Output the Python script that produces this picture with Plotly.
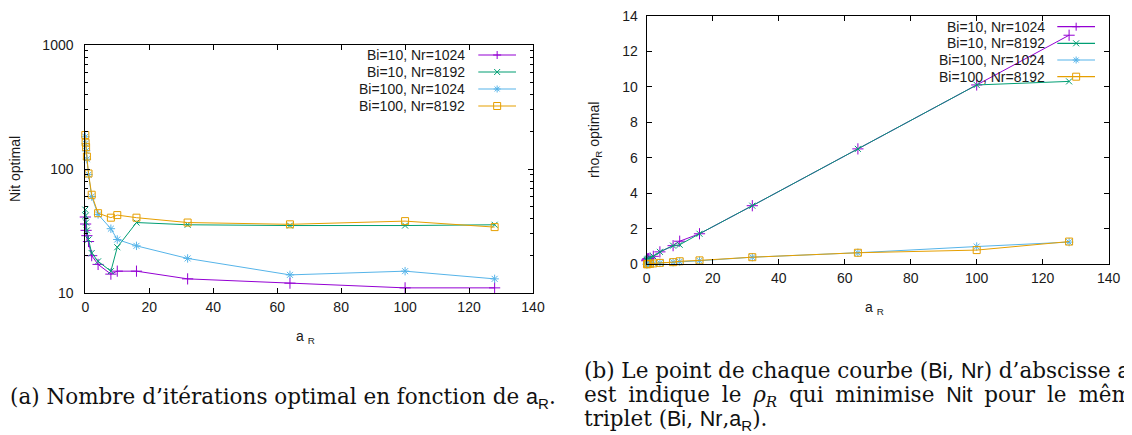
import plotly.graph_objects as go

W, H = 1132, 435
OFF = 8  # default page margin of the browser body

# ---------------- data ----------------
a_R = [0.01, 0.1, 0.25, 0.5, 1, 2, 4, 8, 10, 16, 32, 64, 100, 128]
series_names = ["Bi=10, Nr=1024", "Bi=10, Nr=8192", "Bi=100, Nr=1024", "Bi=100, Nr=8192"]

nit_bi10_nr1024 = [41, 36, 32, 29, 26, 20, 17, 14.2, 15, 15, 13, 12, 11, 11]
nit_bi10_nr8192 = [47, 42, 37, 32, 27, 21, 18, 15, 23.4, 37, 35.5, 35, 35, 35.5]
nit_bi100_nr1024 = [182, 160, 140, 120, 90, 60, 43, 33, 27, 24, 19, 14, 15, 13]
nit_bi100_nr8192 = [188, 163, 150, 126, 92, 62, 44, 40.5, 42.5, 40.5, 37, 35.8, 38, 34]

rho_bi10_nr1024 = [0.2, 0.25, 0.3, 0.32, 0.35, 0.45, 0.7, 1.05, 1.3, 1.72, 3.3, 6.5, 10.1, 12.9]
rho_bi10_nr8192 = [0.2, 0.25, 0.3, 0.32, 0.35, 0.45, 0.7, 1.05, 1.1, 1.72, 3.3, 6.5, 10.1, 10.3]
rho_bi100_nr1024 = [0.0, 0.01, 0.02, 0.03, 0.04, 0.05, 0.08, 0.12, 0.15, 0.2, 0.4, 0.65, 1.0, 1.25]
rho_bi100_nr8192 = [-0.05, 0.0, 0.01, 0.02, 0.03, 0.05, 0.08, 0.12, 0.17, 0.22, 0.4, 0.65, 0.8, 1.28]

x_ticks = [0, 20, 40, 60, 80, 100, 120, 140]
nit_ticks = [10, 100, 1000]
rho_ticks = [0, 2, 4, 6, 8, 10, 12, 14]

# ---------------- style ----------------
colors = ["#9400D3", "#009E73", "#56B4E9", "#E69F00"]
symbols = ["cross-thin", "x-thin", "asterisk", "square-open"]
msizes = [8, 6, 7, 7]
TICKFONT = dict(family="Liberation Sans", size=14, color="#1a1a1a")


def px(x):
    return (x - OFF) / W


def py(y):
    return 1 - (y - OFF) / H


# plot areas in screen pixels
L = dict(x0=85.3, x1=533.0, y0=45.0, y1=293.0)
R = dict(x0=646.7, x1=1108.7, y0=15.7, y1=264.3)

fig = go.Figure()

nit = [nit_bi10_nr1024, nit_bi10_nr8192, nit_bi100_nr1024, nit_bi100_nr8192]
rho = [rho_bi10_nr1024, rho_bi10_nr8192, rho_bi100_nr1024, rho_bi100_nr8192]

for i in range(4):
    fig.add_trace(go.Scatter(
        x=a_R, y=nit[i], mode="lines+markers", name=series_names[i],
        line=dict(color=colors[i], width=1),
        marker=dict(symbol=symbols[i], size=msizes[i], color=colors[i],
                    line=dict(color=colors[i], width=1)),
        xaxis="x", yaxis="y", cliponaxis=False, showlegend=False))
for i in range(4):
    fig.add_trace(go.Scatter(
        x=a_R, y=rho[i], mode="lines+markers", name=series_names[i],
        line=dict(color=colors[i], width=1),
        marker=dict(symbol=symbols[i], size=msizes[i], color=colors[i],
                    line=dict(color=colors[i], width=1)),
        xaxis="x2", yaxis="y2", cliponaxis=False, showlegend=False))

axis_common = dict(showline=True, linecolor="#000000", linewidth=1, mirror="ticks",
                   ticks="inside", ticklen=5, tickwidth=1, tickcolor="#000000",
                   showgrid=False, zeroline=False, tickfont=TICKFONT, automargin=False,
                   ticklabeloverflow="allow")

fig.update_layout(
    template="none",
    width=W, height=H, autosize=False,
    margin=dict(l=0, r=0, t=0, b=0, pad=0),
    paper_bgcolor="white", plot_bgcolor="white",
    showlegend=False,
    xaxis=dict(domain=[px(L["x0"]), px(L["x1"])], range=[0, 140], tickmode="array",
               tickvals=x_ticks, anchor="y", ticklabelstandoff=1, **axis_common),
    yaxis=dict(domain=[py(L["y1"]), py(L["y0"])], type="log", range=[1, 3], tickmode="array",
               tickvals=nit_ticks, anchor="x", ticklabelstandoff=8,
               minor=dict(tickmode="array",
                          tickvals=[20, 30, 40, 50, 60, 70, 80, 90, 200, 300, 400, 500, 600, 700, 800, 900],
                          ticks="inside", ticklen=3, tickcolor="#000000"),
               **axis_common),
    xaxis2=dict(domain=[px(R["x0"]), px(R["x1"])], range=[0, 140], tickmode="array",
                tickvals=x_ticks, anchor="y2", ticklabelstandoff=1, **axis_common),
    yaxis2=dict(domain=[py(R["y1"]), py(R["y0"])], range=[0, 14], tickmode="array",
                tickvals=rho_ticks, anchor="x2", ticklabelstandoff=5, **axis_common),
)

# ---------------- gnuplot-style legends (text left, sample right) ----------------
shapes = []
annotations = []


def add_legend(text_right, line_x0, line_x1, rows):
    mx = (line_x0 + line_x1) / 2
    for i, yrow in enumerate(rows):
        c = colors[i]
        annotations.append(dict(xref="paper", yref="paper", x=px(text_right), y=py(yrow),
                                xanchor="right", yanchor="middle", showarrow=False,
                                text=series_names[i], font=TICKFONT))
        shapes.append(dict(type="line", xref="paper", yref="paper",
                           x0=px(line_x0), x1=px(line_x1), y0=py(yrow), y1=py(yrow),
                           line=dict(color=c, width=1.2)))
        s = 3.5
        segs = []
        if i == 0:
            segs = [(-s - 0.5, 0, s + 0.5, 0), (0, -s - 0.5, 0, s + 0.5)]
        elif i == 1:
            segs = [(-s + 0.5, -s + 0.5, s - 0.5, s - 0.5), (-s + 0.5, s - 0.5, s - 0.5, -s + 0.5)]
        elif i == 2:
            segs = [(-s, 0, s, 0), (0, -s, 0, s), (-s + 1, -s + 1, s - 1, s - 1), (-s + 1, s - 1, s - 1, -s + 1)]
        for (a, b, cc, d) in segs:
            shapes.append(dict(type="line", xref="paper", yref="paper",
                               x0=px(mx + a), y0=py(yrow + b), x1=px(mx + cc), y1=py(yrow + d),
                               line=dict(color=c, width=1)))
        if i == 3:
            shapes.append(dict(type="rect", xref="paper", yref="paper",
                               x0=px(mx - s), x1=px(mx + s), y0=py(yrow - s), y1=py(yrow + s),
                               line=dict(color=c, width=1), fillcolor="rgba(0,0,0,0)"))


add_legend(466.7, 478.3, 516.0, [55, 72, 89, 106])
add_legend(1046.7, 1057.3, 1095.0, [26.7, 43.3, 60, 76.7])

# ---------------- axis titles ----------------
annotations += [
    dict(xref="paper", yref="paper", x=px(15), y=py((L["y0"] + L["y1"]) / 2), textangle=-90,
         text="Nit optimal", showarrow=False, font=TICKFONT, xanchor="center", yanchor="middle"),
    dict(xref="paper", yref="paper", x=px(595), y=py((R["y0"] + R["y1"]) / 2), textangle=-90,
         text="rho<sub>R</sub> optimal", showarrow=False, font=TICKFONT, xanchor="center", yanchor="middle"),
    dict(xref="paper", yref="paper", x=px(305), y=py(337), text="a <sub>R</sub>",
         showarrow=False, font=TICKFONT, xanchor="center", yanchor="middle"),
    dict(xref="paper", yref="paper", x=px(874), y=py(308), text="a <sub>R</sub>",
         showarrow=False, font=TICKFONT, xanchor="center", yanchor="middle"),
]

# ---------------- captions ----------------
SERIF = dict(family="DejaVu Serif", size=21.5, color="#111111")
SANS = "font-family:Liberation Sans"
aR = f'<span style="{SANS}">a<sub>R</sub></span>'
Bi = f'<span style="{SANS}">Bi</span>'
Nr = f'<span style="{SANS}">Nr</span>'
Nit = f'<span style="{SANS}">Nit</span>'

annotations += [
    dict(xref="paper", yref="paper", x=px(8), y=py(398), xanchor="left", yanchor="middle",
         showarrow=False, font=SERIF,
         text=f"(a) Nombre d’itérations optimal en fonction de {aR}."),
    dict(xref="paper", yref="paper", x=px(582), y=py(372), xanchor="left", yanchor="middle",
         showarrow=False, font=SERIF,
         text=f"(b) Le point de chaque courbe ({Bi}, {Nr}) d’abscisse {aR}"),
    dict(xref="paper", yref="paper", x=px(582), y=py(396), xanchor="left", yanchor="middle",
         showarrow=False, font=SERIF,
         text=f'<span style="word-spacing:5px">est indique le <i>ρ<sub>R</sub></i> qui minimise '
              f'{Nit} pour le même</span>'),
    dict(xref="paper", yref="paper", x=px(582), y=py(420), xanchor="left", yanchor="middle",
         showarrow=False, font=SERIF,
         text=f"triplet ({Bi}, {Nr},{aR})."),
]

fig.update_layout(shapes=shapes, annotations=annotations)
fig.write_html("out.html")
